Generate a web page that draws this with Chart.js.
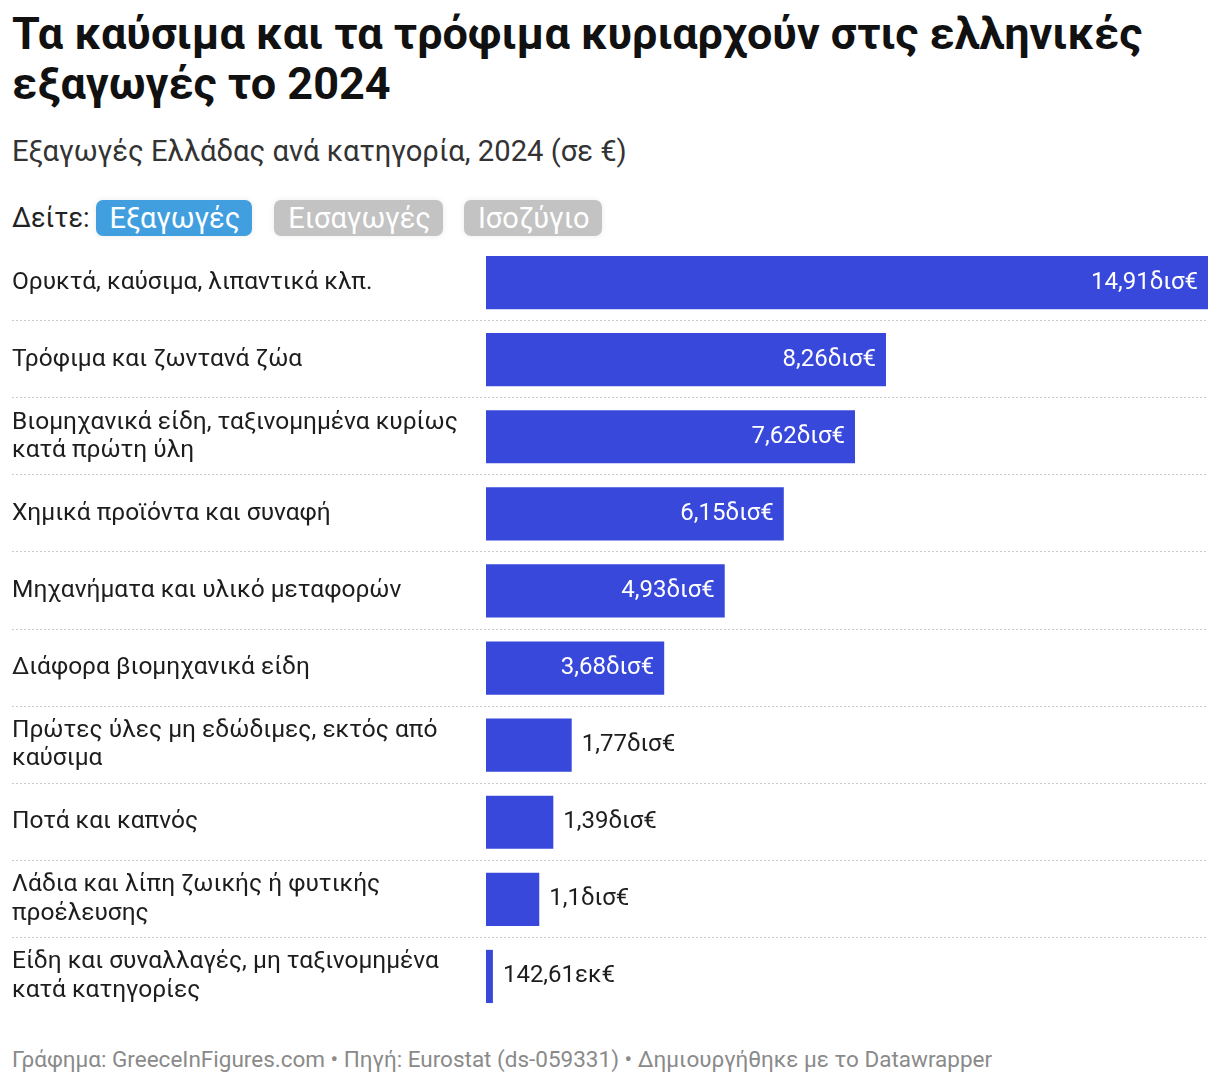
<!DOCTYPE html>
<html lang="el">
<head>
<meta charset="utf-8">
<script src="https://cdn.jsdelivr.net/npm/chart.js@4"></script>
<style>
  body { margin: 0; background: #fff; font-family: Roboto, "Noto Sans", sans-serif; color: #1d1d1d; }
  .wrap { position: relative; width: 1220px; height: 1086px; }
  h1 { position: absolute; left: 12px; top: 9px; margin: 0; width: 1200px; font-size: 45px; line-height: 50px; font-weight: 700; color: #111; }
  .sub { position: absolute; left: 12px; top: 134px; font-size: 29.2px; color: #333; }
  .see { position: absolute; left: 12px; top: 200px; font-size: 27px; color: #222; display: flex; align-items: center; }
  .btn { display: inline-block; height: 36px; line-height: 36px; padding: 0 12px 0 14px; border-radius: 7px; color: #fff; font-size: 29px; box-shadow: 0 0 6px rgba(0,0,0,0.08); }
  .b1 { background: #419fdf; margin-left: 6px; }
  .b2 { background: #c3c3c3; margin-left: 22px; }
  .b3 { background: #c3c3c3; margin-left: 21px; }
  .chart { position: absolute; left: 0; top: 244px; width: 1220px; height: 771px; }
  .foot { position: absolute; left: 12px; top: 1046px; font-size: 22.5px; color: #8a8a8a; }
</style>
</head>
<body>
<div class="wrap">
  <h1>Τα καύσιμα και τα τρόφιμα κυριαρχούν στις ελληνικές εξαγωγές το 2024</h1>
  <div class="sub">Εξαγωγές Ελλάδας ανά κατηγορία, 2024 (σε €)</div>
  <div class="see">Δείτε:<span class="btn b1">Εξαγωγές</span><span class="btn b2">Εισαγωγές</span><span class="btn b3">Ισοζύγιο</span></div>
  <div class="chart"><canvas id="exportsChart"></canvas></div>
  <div class="foot">Γράφημα: GreeceInFigures.com • Πηγή: Eurostat (ds-059331) • Δημιουργήθηκε με το Datawrapper</div>
</div>
<script>
// categories (multi-line labels as arrays)
const categories = [
  "Ορυκτά, καύσιμα, λιπαντικά κλπ.",
  "Τρόφιμα και ζωντανά ζώα",
  ["Βιομηχανικά είδη, ταξινομημένα κυρίως", "κατά πρώτη ύλη"],
  "Χημικά προϊόντα και συναφή",
  "Μηχανήματα και υλικό μεταφορών",
  "Διάφορα βιομηχανικά είδη",
  ["Πρώτες ύλες μη εδώδιμες, εκτός από", "καύσιμα"],
  "Ποτά και καπνός",
  ["Λάδια και λίπη ζωικής ή φυτικής", "προέλευσης"],
  ["Είδη και συναλλαγές, μη ταξινομημένα", "κατά κατηγορίες"],
];

// exports in billion €
const exportsBn = [14.91, 8.26, 7.62, 6.15, 4.93, 3.68, 1.77, 1.39, 1.1, 0.14261];

const valueLabels = ["14,91δισ€", "8,26δισ€", "7,62δισ€", "6,15δισ€", "4,93δισ€", "3,68δισ€", "1,77δισ€", "1,39δισ€", "1,1δισ€", "142,61εκ€"];

const barColor = "#3848db";

// dotted separators between rows, across full width
const separators = {
  id: "separators",
  beforeDatasetsDraw(chart) {
    const { ctx } = chart;
    const y = chart.scales.y;
    ctx.save();
    ctx.strokeStyle = "#cccccc";
    ctx.lineWidth = 1;
    ctx.setLineDash([2, 2]);
    for (let i = 0; i < categories.length - 1; i++) {
      const yy = Math.round((y.getPixelForValue(i) + y.getPixelForValue(i + 1)) / 2) - 0.5;
      ctx.beginPath();
      ctx.moveTo(12, yy);
      ctx.lineTo(1208, yy);
      ctx.stroke();
    }
    ctx.restore();
  },
};

// value labels: inside (white) if there is room, else outside
const valueText = {
  id: "valueText",
  afterDatasetsDraw(chart) {
    const { ctx } = chart;
    const meta = chart.getDatasetMeta(0);
    ctx.save();
    ctx.font = "24px Roboto, sans-serif";
    ctx.textBaseline = "middle";
    meta.data.forEach((bar, i) => {
      const txt = valueLabels[i];
      const w = ctx.measureText(txt).width;
      const barW = bar.x - bar.base;
      if (barW > w + 20) {
        ctx.fillStyle = "#ffffff";
        ctx.textAlign = "right";
        ctx.fillText(txt, bar.x - 10, bar.y);
      } else {
        ctx.fillStyle = "#1d1d1d";
        ctx.textAlign = "left";
        ctx.fillText(txt, bar.x + 10, bar.y);
      }
    });
    ctx.restore();
  },
};

new Chart(document.getElementById("exportsChart"), {
  type: "bar",
  data: {
    labels: categories,
    datasets: [
      {
        label: "Εξαγωγές",
        data: exportsBn,
        backgroundColor: barColor,
        barPercentage: 0.69,
        categoryPercentage: 1,
      },
    ],
  },
  options: {
    indexAxis: "y",
    responsive: true,
    maintainAspectRatio: false,
    animation: false,
    layout: { padding: { left: 12, right: 12, top: 0, bottom: 0 } },
    scales: {
      x: {
        display: false,
        min: 0,
        max: 14.91,
      },
      y: {
        grid: { display: false },
        border: { display: false },
        afterFit: (scale) => {
          scale.width = 474;
          scale.paddingTop = 0;
          scale.paddingBottom = 0;
        },
        ticks: {
          crossAlign: "far",
          color: "#1d1d1d",
          padding: 0,
          font: { family: "Roboto", size: 24.5, lineHeight: 1.15 },
        },
      },
    },
    plugins: {
      legend: { display: false },
      tooltip: { enabled: false },
    },
  },
  plugins: [separators, valueText],
});
</script>
</body>
</html>
